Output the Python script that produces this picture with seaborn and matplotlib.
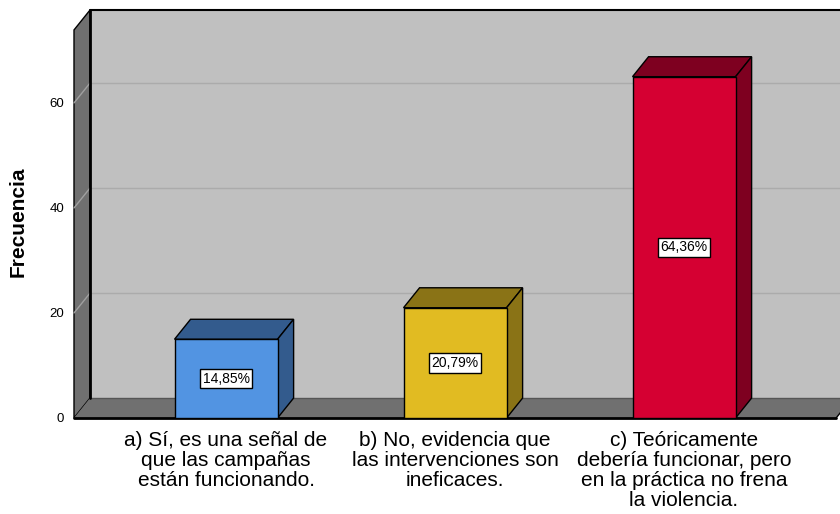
import numpy as np
import pandas as pd
import matplotlib
matplotlib.use("Agg")
import matplotlib.pyplot as plt
from matplotlib.patches import Polygon
import seaborn as sns

# data
categories = [
    "a) Sí, es una señal de\nque las campañas\nestán funcionando.",
    "b) No, evidencia que\nlas intervenciones son\nineficaces.",
    "c) Teóricamente\ndebería funcionar, pero\nen la práctica no frena\nla violencia.",
]
freqs = [15, 21, 65]
pct_labels = ["14,85%", "20,79%", "64,36%"]
front_colors = ["#5294E2", "#E1BB22", "#D50032"]
dark_colors = ["#335B8D", "#8A7316", "#7E0020"]
yticks = [0, 20, 40, 60]

sns.set_style("white")
plt.rcParams["font.family"] = ["Liberation Sans", "DejaVu Sans"]
plt.rcParams["text.color"] = "black"
plt.rcParams["xtick.color"] = "black"
plt.rcParams["ytick.color"] = "black"
plt.rcParams["axes.labelcolor"] = "black"

fig = plt.figure(figsize=(8.4, 5.14), dpi=100)
ax = fig.add_axes([74 / 840, 96 / 514, 766 / 840, 408 / 514])

df = pd.DataFrame({"cat": categories, "freq": freqs})
sns.barplot(data=df, x="cat", y="freq", hue="cat", palette=front_colors,
            saturation=1, legend=False, width=0.45, edgecolor="black",
            linewidth=1, ax=ax, zorder=5)
bars = [b for c in ax.containers for b in c]

# 3d depth offset (data units)
dx, dy = 0.07, 3.8
x0, x1 = -0.664, 2.664
ytop = 77.7
ax.set_xlim(x0, 2.681)
ax.set_ylim(0, ytop)

wall = "#C0C0C0"
side = "#707070"
# back wall
ax.add_patch(Polygon([(x0 + dx, dy), (x1 + 1, dy), (x1 + 1, ytop), (x0 + dx, ytop)],
                     closed=True, facecolor=wall, edgecolor="none", zorder=0, clip_on=False))
# left wall
ax.add_patch(Polygon([(x0, 0), (x0 + dx, dy), (x0 + dx, ytop), (x0, ytop - dy)],
                     closed=True, facecolor=side, edgecolor="black", linewidth=1, zorder=1, clip_on=False))
# floor
ax.add_patch(Polygon([(x0, 0), (x1, 0), (x1 + dx, dy), (x0 + dx, dy)],
                     closed=True, facecolor=side, edgecolor="none", zorder=1, clip_on=False))
# grid lines on back wall and left wall
for v in yticks[1:]:
    ax.plot([x0 + dx, x1 + 1], [v + dy, v + dy], color="#ABABAB", lw=1, zorder=0.5, clip_on=False)
    ax.plot([x0, x0 + dx], [v, v + dy], color="#A0A0A0", lw=1, zorder=1.5, clip_on=False)
# edges
ax.plot([x0 + dx, x0 + dx], [dy, ytop], color="black", lw=2, zorder=2, clip_on=False)
ax.plot([x0 + dx, x1 + 1], [ytop, ytop], color="black", lw=1.5, zorder=2, clip_on=False)
ax.plot([x0, x1], [0, 0], color="black", lw=2, zorder=2, clip_on=False)
ax.plot([x0 + dx, x1 + 1], [dy, dy], color="#555555", lw=1, zorder=1.6, clip_on=False)
ax.plot([x1, x1 + dx], [0, dy], color="black", lw=1, zorder=2, clip_on=False)

# top and side faces of the bars + percent labels
for i, bar in enumerate(bars):
    x = bar.get_x()
    w = bar.get_width()
    h = bar.get_height()
    top = Polygon([(x, h), (x + w, h), (x + w + dx, h + dy), (x + dx, h + dy)],
                  closed=True, facecolor=dark_colors[i], edgecolor="black", lw=1, zorder=4)
    sd = Polygon([(x + w, 0), (x + w, h), (x + w + dx, h + dy), (x + w + dx, dy)],
                 closed=True, facecolor=dark_colors[i], edgecolor="black", lw=1, zorder=4)
    ax.add_patch(top)
    ax.add_patch(sd)
    ax.text(x + w / 2, h / 2, pct_labels[i], ha="center", va="center", fontsize=10,
            zorder=6, bbox=dict(boxstyle="square,pad=0.2", facecolor="white",
                                edgecolor="black", linewidth=1))

for s in ax.spines.values():
    s.set_visible(False)
ax.set_yticks(yticks)
ax.set_yticklabels([str(t) for t in yticks], fontsize=9.5)
ax.tick_params(axis="y", length=0, pad=7)
ax.tick_params(axis="x", length=0, pad=9, labelsize=15)
for lab in ax.get_xticklabels():
    lab.set_linespacing(1.08)
ax.set_xlabel("")
ax.set_ylabel("Frecuencia", fontsize=15, fontweight="bold")
ax.yaxis.set_label_coords(-46 / 766, (418 - 222) / 408)

fig.savefig("out.png", dpi=100)
